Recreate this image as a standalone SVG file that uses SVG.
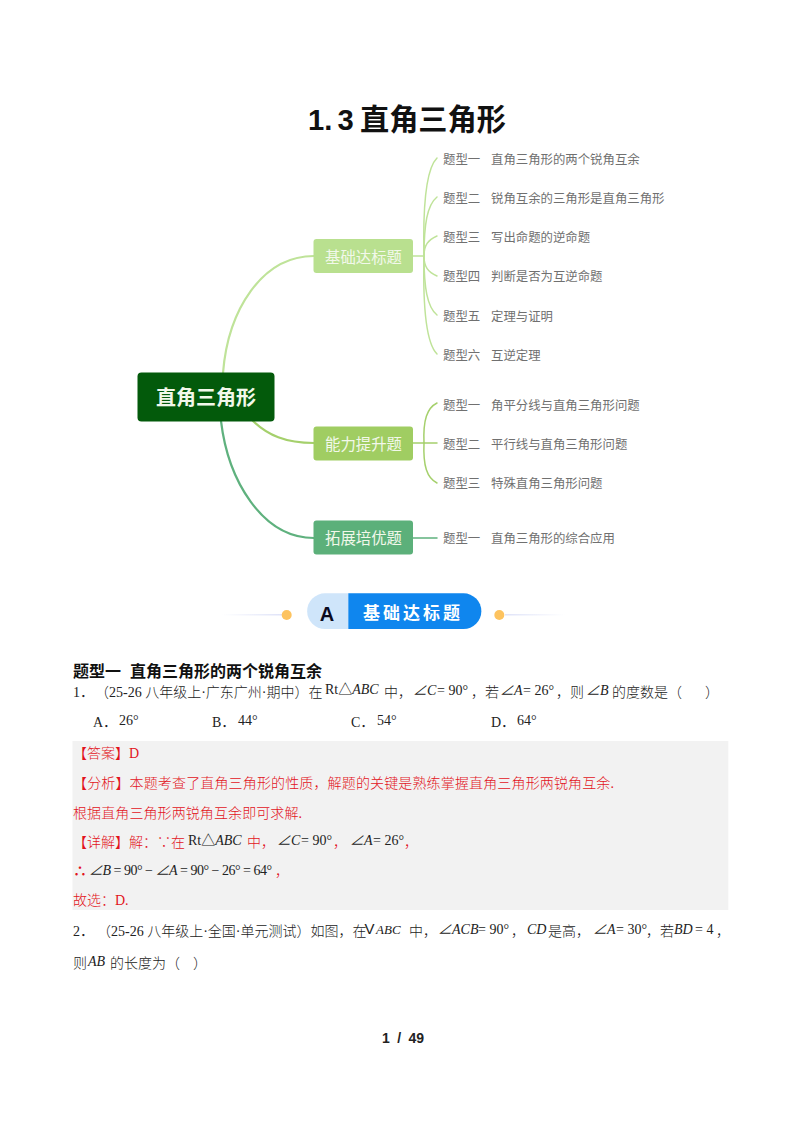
<svg xmlns="http://www.w3.org/2000/svg" width="800" height="1132" viewBox="0 0 800 1132">
<defs>
<linearGradient id="fadeL" x1="0" x2="1" y1="0" y2="0"><stop offset="0" stop-color="#dfe3f8" stop-opacity="0"/><stop offset="1" stop-color="#dfe3f8"/></linearGradient>
<linearGradient id="fadeR" x1="0" x2="1" y1="0" y2="0"><stop offset="0" stop-color="#dfe3f8"/><stop offset="1" stop-color="#dfe3f8" stop-opacity="0"/></linearGradient>
</defs>
<style>
text{font-family:"Liberation Serif","Noto Sans CJK SC",serif;font-size:14px;fill:#222}
.cj{font-family:"Liberation Serif","Noto Sans CJK SC",sans-serif;font-weight:300}
.it{font-style:italic}
.r,.r tspan{fill:#e2141c}
.t{font-family:"Noto Sans CJK SC",sans-serif;font-size:12.4px;fill:#707070;font-weight:400}
.n{font-family:"Noto Sans CJK SC",sans-serif;font-size:15.4px;fill:#f2f8ea;text-anchor:middle;font-weight:400}
.c{fill:none;stroke-linecap:round}
.a{stroke:#bfe399}.b{stroke:#a5d06c}.d{stroke:#5fb17e}
.h{font-family:"Liberation Sans","Noto Sans CJK SC",sans-serif;font-size:29.200px;font-weight:700;fill:#111}
</style>
<rect width="800" height="1132" fill="#fff"/>
<g id="title"><text class="h" x="308" y="130" style="word-spacing:-2.900px">1. 3</text><text class="h" x="360" y="130">直角三角形</text></g>

<g id="connectors">
<path class="c a" stroke-width="2.2" d="M223 373C228 310 262 256 314 256"/>
<path class="c b" stroke-width="2.2" d="M253 421C268 435 285 443 314 443"/>
<path class="c d" stroke-width="2.2" d="M221 421C228 480 262 538 314 538"/>
<g stroke-width="1.5">
<path class="c a" d="M413 256H424"/>
<path class="c a" d="M424 256C423 215 425 170 437 158"/>
<path class="c a" d="M424 256C424 225 427 205 437 197"/>
<path class="c a" d="M424 256C424 245 428 240 437 236"/>
<path class="c a" d="M424 256C424 267 428 272 437 276"/>
<path class="c a" d="M424 256C424 287 427 307 437 315"/>
<path class="c a" d="M424 256C423 297 425 342 437 354"/>
<path class="c b" d="M413 443H437"/>
<path class="c b" d="M424 443C423 420 427 408 437 403"/>
<path class="c b" d="M424 443C423 466 427 478 437 483"/>
<path class="c d" d="M413 538H437"/>
</g>
</g>

<g id="root"><rect x="137.5" y="372.5" width="137" height="49" rx="4" fill="#035a0b"/><text x="206" y="405" class="n" style="font-size:20px;font-weight:700">直角三角形</text></g>
<g id="n1"><rect x="313.5" y="239" width="99.500" height="34" rx="3" fill="#b9e08f"/><text x="363.500" y="263" class="n">基础达标题</text></g>
<g id="n2"><rect x="313.5" y="426.500" width="99.500" height="34" rx="3" fill="#a0cd62"/><text x="363.500" y="450" class="n">能力提升题</text></g>
<g id="n3"><rect x="313.5" y="520.500" width="99.500" height="34" rx="3" fill="#5cb07a"/><text x="363.500" y="544" class="n">拓展培优题</text></g>

<g id="t1-1"><text class="t" x="443" y="163.500">题型一</text><text class="t" x="491" y="163.500">直角三角形的两个锐角互余</text></g>
<g id="t1-2"><text class="t" x="443" y="202.500">题型二</text><text class="t" x="491" y="202.500">锐角互余的三角形是直角三角形</text></g>
<g id="t1-3"><text class="t" x="443" y="241.500">题型三</text><text class="t" x="491" y="241.500">写出命题的逆命题</text></g>
<g id="t1-4"><text class="t" x="443" y="280.500">题型四</text><text class="t" x="491" y="280.500">判断是否为互逆命题</text></g>
<g id="t1-5"><text class="t" x="443" y="320.500">题型五</text><text class="t" x="491" y="320.500">定理与证明</text></g>
<g id="t1-6"><text class="t" x="443" y="359.500">题型六</text><text class="t" x="491" y="359.500">互逆定理</text></g>
<g id="t2-1"><text class="t" x="443" y="410">题型一</text><text class="t" x="491" y="410">角平分线与直角三角形问题</text></g>
<g id="t2-2"><text class="t" x="443" y="449">题型二</text><text class="t" x="491" y="449">平行线与直角三角形问题</text></g>
<g id="t2-3"><text class="t" x="443" y="488">题型三</text><text class="t" x="491" y="488">特殊直角三角形问题</text></g>
<g id="t3-1"><text class="t" x="443" y="542.500">题型一</text><text class="t" x="491" y="542.500">直角三角形的综合应用</text></g>

<g id="banner">
<rect x="222" y="614" width="60" height="1.500" fill="url(#fadeL)"/>
<rect x="505" y="614" width="60" height="1.500" fill="url(#fadeR)"/>
<circle cx="286.700" cy="615" r="5" fill="#fdc35f"/>
<circle cx="499.300" cy="615" r="5" fill="#fdc35f"/>
<path d="M348.300 593.300H325A17.800 17.800 0 0 0 325 629H348.300Z" fill="#cfe5fa"/>
<path d="M348.300 593.300H463.500A17.800 17.800 0 0 1 463.500 629H348.300Z" fill="#0f86ee"/>
<text x="327" y="621" text-anchor="middle" style="font-family:'Liberation Sans',sans-serif;font-size:20px;font-weight:700;fill:#0a0a1e">A</text>
<text x="363" y="619" style="font-family:'Noto Sans CJK SC',sans-serif;font-size:17px;font-weight:700;fill:#fff;letter-spacing:3px">基础达标题</text>
</g>

<rect id="answer-bg" x="72.500" y="741" width="655.800" height="169" fill="#f2f2f2"/>

<g id="body">
<text x="73" y="677" style="font-family:'Noto Sans CJK SC',sans-serif;font-size:16px;font-weight:700;fill:#111"><tspan x="73">题型一 </tspan><tspan x="130">直角三角形的两个锐角互余</tspan></text>
<text x="73" y="697">1．</text>
<text class="cj" x="95" y="697">（25-26 八年级上·广东广州·期中）在</text>
<text x="325" y="694">Rt△<tspan class="it">ABC</tspan></text>
<text class="cj" x="384" y="697">中，</text>
<text class="it" x="413" y="695">∠C</text><text x="437" y="695">= 90°</text>
<text class="cj" x="471" y="697">，若</text>
<text class="it" x="500" y="695">∠A</text><text x="523" y="695">= 26°</text>
<text class="cj" x="556" y="697">，则</text>
<text class="it" x="586" y="695">∠B</text>
<text class="cj" x="612" y="697">的度数是（</text>
<text class="cj" x="705" y="697">）</text>

<text x="93" y="726.500">A．</text><text x="119" y="725">26°</text>
<text x="212" y="726.500">B．</text><text x="238" y="725">44°</text>
<text x="351" y="726.500">C．</text><text x="377" y="725">54°</text>
<text x="491" y="726.500">D．</text><text x="517" y="725">64°</text>

<text class="r cj" x="73" y="758">【答案】D</text>
<text class="r cj" x="73" y="788" textLength="541">【分析】本题考查了直角三角形的性质，解题的关键是熟练掌握直角三角形两锐角互余.</text>
<text class="r cj" x="73" y="818" textLength="229">根据直角三角形两锐角互余即可求解.</text>
<text class="r cj" x="73" y="847">【详解】解：∵在</text>
<text x="188" y="845">Rt△<tspan class="it">ABC</tspan></text>
<text class="r cj" x="247" y="847">中，</text>
<text class="it" x="277" y="845">∠C</text><text x="301" y="845">= 90°</text>
<text class="r cj" x="333" y="847">，</text>
<text class="it" x="350" y="845">∠A</text><text x="373" y="845">= 26°</text>
<text class="r cj" x="404" y="847">，</text>
<text class="r" x="73" y="876" style="font-family:'Noto Sans CJK SC',sans-serif;font-weight:700">∴</text>
<text x="89" y="875" textLength="183"><tspan class="it">∠B</tspan> = 90° − <tspan class="it">∠A</tspan> = 90° − 26° = 64°</text>
<text class="r cj" x="275" y="876">，</text>
<text class="r cj" x="73" y="905">故选：D.</text>

<text x="73" y="936">2．</text>
<text class="cj" x="97" y="936">（25-26 八年级上·全国·单元测试）如图，在</text>
<text x="364.500" y="934" style="font-family:'Liberation Sans',sans-serif;font-size:15px">V</text>
<text class="it" x="376" y="934" style="font-size:13px">ABC</text>
<text class="cj" x="409" y="936">中，</text>
<text class="it" x="438" y="934">∠ACB</text><text x="478" y="934">= 90°</text>
<text class="cj" x="511" y="936">，</text>
<text class="it" x="527" y="934">CD</text>
<text class="cj" x="548" y="936">是高，</text>
<text class="it" x="593" y="934">∠A</text><text x="616" y="934">= 30°</text>
<text class="cj" x="646" y="936">，若</text>
<text class="it" x="674" y="934">BD</text><text x="695" y="934">= 4</text>
<text class="cj" x="716" y="936">，</text>
<text class="cj" x="73" y="968">则</text>
<text class="it" x="88" y="966">AB</text>
<text class="cj" x="110" y="968">的长度为（</text>
<text class="cj" x="193" y="968">）</text>
<text x="382" y="1043" style="font-family:'Liberation Sans',sans-serif;font-weight:700;font-size:14px;word-spacing:3.500px">1 / 49</text>
</g>
</svg>
